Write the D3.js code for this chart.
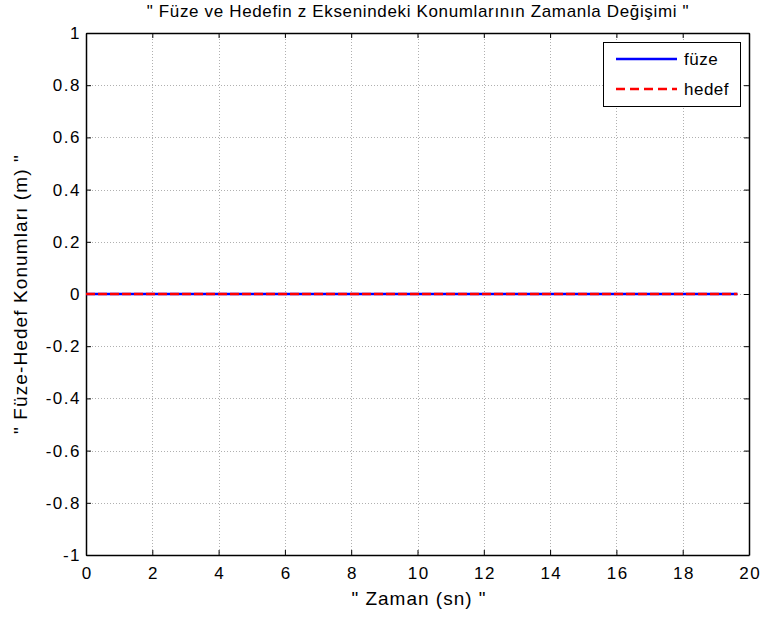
<!DOCTYPE html>
<html>
<head>
<meta charset="utf-8">
<script src="https://cdn.jsdelivr.net/npm/d3@7"></script>
<style>
  body { margin: 0; background: #fff; }
  svg { font-family: "Liberation Sans", Arial, sans-serif; }
</style>
</head>
<body>
<svg id="chart" width="763" height="621"></svg>
<script>
// Sample times (s) and z positions (m) of missile and target
const time = [0, 2, 4, 6, 8, 10, 12, 14, 16, 18, 19.65];
const fuzeZ = [0, 0, 0, 0, 0, 0, 0, 0, 0, 0, 0];
const hedefZ = [0, 0, 0, 0, 0, 0, 0, 0, 0, 0, 0];
const xTicks = [0, 2, 4, 6, 8, 10, 12, 14, 16, 18, 20];
const yTicks = [-1, -0.8, -0.6, -0.4, -0.2, 0, 0.2, 0.4, 0.6, 0.8, 1];
const seriesNames = ["füze", "hedef"];

const svg = d3.select("#chart");
const L = 86, R = 749, T = 33, B = 555;
const FS = 17;

const x = d3.scaleLinear().domain([0, 20]).range([L, R]);
const y = d3.scaleLinear().domain([-1, 1]).range([B, T]);

svg.append("rect").attr("width", 763).attr("height", 621).attr("fill", "#fff");

// grid
const grid = svg.append("g").attr("stroke", "#b0b0b0").attr("stroke-width", 1)
  .attr("stroke-dasharray", "1,2");
grid.selectAll(".gx").data(xTicks.slice(1, -1)).join("line")
  .attr("x1", d => Math.round(x(d)) + 0.5).attr("x2", d => Math.round(x(d)) + 0.5)
  .attr("y1", T).attr("y2", B);
grid.selectAll(".gy").data(yTicks.slice(1, -1)).join("line")
  .attr("y1", d => Math.round(y(d)) + 0.5).attr("y2", d => Math.round(y(d)) + 0.5)
  .attr("x1", L).attr("x2", R);

// axes with inward ticks on all sides
const tick = 5;
const fmt = d => d3.format("")(d).replace("−", "-");
const axB = svg.append("g").attr("transform", `translate(0,${B})`)
  .call(d3.axisBottom(x).tickValues(xTicks).tickSizeInner(-tick).tickSizeOuter(0).tickPadding(12).tickFormat(fmt));
const axT = svg.append("g").attr("transform", `translate(0,${T})`)
  .call(d3.axisTop(x).tickValues(xTicks).tickSizeInner(-tick).tickSizeOuter(0).tickFormat(""));
const axL = svg.append("g").attr("transform", `translate(${L},0)`)
  .call(d3.axisLeft(y).tickValues(yTicks).tickSizeInner(-tick).tickSizeOuter(0).tickPadding(5).tickFormat(fmt));
const axR = svg.append("g").attr("transform", `translate(${R},0)`)
  .call(d3.axisRight(y).tickValues(yTicks).tickSizeInner(-tick).tickSizeOuter(0).tickFormat(""));
[axB, axT, axL, axR].forEach(a => {
  a.attr("font-size", FS).attr("font-family", "Liberation Sans, Arial, sans-serif");
  a.select(".domain").attr("stroke", "#000").attr("stroke-width", 1.5);
  a.selectAll(".tick line").attr("stroke", "#000");
  a.selectAll("text").attr("fill", "#000").attr("letter-spacing", "1.5px");
});
axB.selectAll("text").attr("dx", "0.75px");

// series
const line = d3.line().x((d, i) => x(time[i])).y(d => y(d));
svg.append("path").datum(fuzeZ).attr("d", line).attr("fill", "none")
  .attr("stroke", "#0000ff").attr("stroke-width", 2.5);
svg.append("path").datum(hedefZ).attr("d", line).attr("fill", "none")
  .attr("stroke", "#ff0000").attr("stroke-width", 2.5).attr("stroke-dasharray", "9,3");

// legend
const lg = svg.append("g");
lg.append("rect").attr("x", 603.5).attr("y", 42.5).attr("width", 137).attr("height", 64)
  .attr("fill", "#fff").attr("stroke", "#000").attr("stroke-width", 1);
const styles = [{ c: "#0000ff", dash: null }, { c: "#ff0000", dash: "9,5" }];
seriesNames.forEach((n, i) => {
  const yy = 59 + i * 30;
  lg.append("line").attr("x1", 616).attr("x2", 677).attr("y1", yy).attr("y2", yy)
    .attr("stroke", styles[i].c).attr("stroke-width", 2.5)
    .attr("stroke-dasharray", styles[i].dash);
  lg.append("text").attr("x", 684).attr("y", yy + 6).attr("font-size", FS)
    .attr("letter-spacing", "0.5px").text(n);
});

// labels
svg.append("text").attr("x", 418).attr("y", 17).attr("text-anchor", "middle")
  .attr("font-size", FS).attr("letter-spacing", "0.65px")
  .text("\" Füze ve Hedefin z Eksenindeki Konumlarının Zamanla Değişimi \"");
svg.append("text").attr("x", 419).attr("y", 605).attr("text-anchor", "middle")
  .attr("font-size", 19).attr("letter-spacing", "1px").text("\" Zaman (sn) \"");
svg.append("text").attr("transform", `translate(27,${(T + B) / 2}) rotate(-90)`)
  .attr("text-anchor", "middle").attr("font-size", 19).attr("letter-spacing", "1.1px")
  .text("\" Füze-Hedef Konumları (m) \"");
</script>
</body>
</html>
